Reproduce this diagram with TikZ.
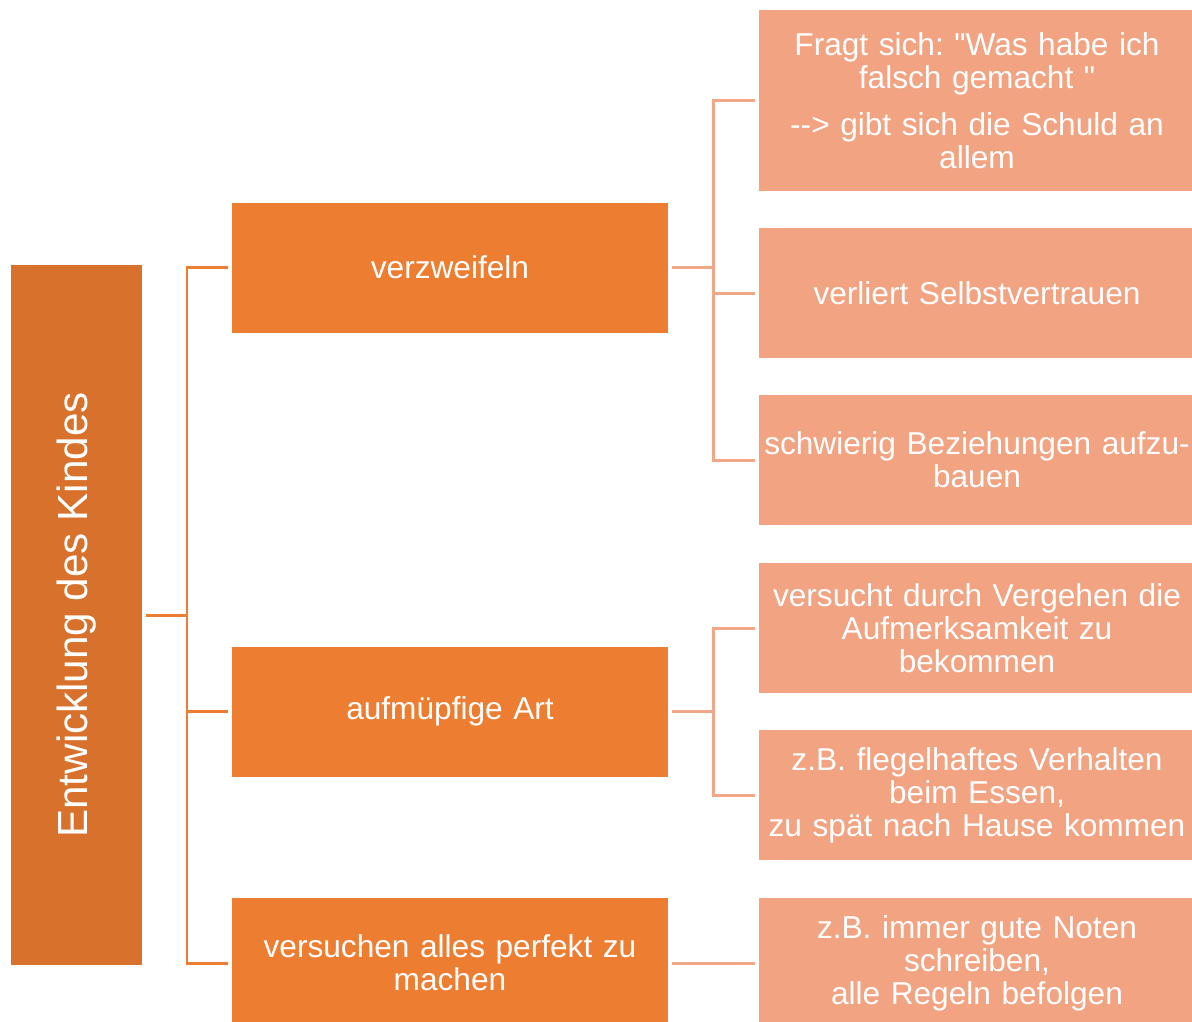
\documentclass[tikz,border=0pt]{standalone}
\usepackage{fontspec}
\setmainfont{Liberation Sans}[Ligatures=TeXOff]
\frenchspacing
\usepackage{xcolor}
\usepackage{tikz}
\usetikzlibrary{positioning}
\definecolor{raiz}{HTML}{D7712B}
\definecolor{nivel}{HTML}{ED7D31}
\definecolor{folha}{HTML}{F1A382}
\definecolor{linhaB}{HTML}{F2A888}

\begin{document}
\begin{tikzpicture}[
	caixa/.style={inner sep=0pt, text=white, align=center, font=\fontsize{9}{9.4}\selectfont},
	raizbox/.style={caixa, fill=raiz, minimum width=1.31cm, minimum height=7cm},
	nivelbox/.style={caixa, fill=nivel, minimum width=4.36cm, minimum height=1.3cm, text width=4.2cm},
	folhabox/.style={caixa, fill=folha, minimum width=4.36cm, minimum height=1.3cm, text width=4.3cm},
	ligA/.style={draw=nivel, line width=0.85pt},
	ligB/.style={draw=linhaB, line width=0.85pt}]
			\useasboundingbox (0,0) rectangle (11.92,-10.21);
			
			%% Raiz
			\node [raizbox] (raiz) at (0.765,-6.15) {};
			\node [caixa, rotate=90, font=\fontsize{12}{14}\selectfont] (titulo) at (raiz.center) {Entwicklung des Kindes};
			
			%% Nível 2
			\node [nivelbox] (verz) at (4.50,-2.675) {verzweifeln};
			\node [nivelbox] (aufm) at (4.50,-7.115) {aufmüpfige Art};
			\node [nivelbox] (perf) at (4.50,-9.63) {versuchen alles perfekt zu\\machen};
			
			%% Nível 3
			\node [folhabox, minimum height=1.81cm] (frag) at (9.77,-1.005) {Fragt sich: "Was habe ich\\falsch gemacht "\\[0.14cm]--> gibt sich die Schuld an\\allem};
			\node [folhabox] (selb) at (9.77,-2.93) {verliert Selbstvertrauen};
			\node [folhabox] (bez) at (9.77,-4.60) {schwierig Beziehungen aufzu-\\bauen};
			\node [folhabox] (verg) at (9.77,-6.28) {versucht durch Vergehen die\\Aufmerksamkeit zu\\bekommen};
			\node [folhabox] (fleg) at (9.77,-7.95) {z.B. flegelhaftes Verhalten\\beim Essen,\\zu spät nach Hause kommen};
			\node [folhabox] (note) at (9.77,-9.63) {z.B. immer gute Noten\\schreiben,\\alle Regeln befolgen};
			
			%% Conexões da raiz
			\coordinate (r1) at (1.87,-6.15);
			\draw [ligA] ([xshift=0.03cm]raiz.east) -- (r1);
			\draw [ligA] (r1) |- ([xshift=-0.03cm]verz.west);
			\draw [ligA] (r1) |- ([xshift=-0.03cm]aufm.west);
			\draw [ligA] (r1) |- ([xshift=-0.03cm]perf.west);
			
			%% Conexões de verzweifeln
			\coordinate (v1) at (7.13,-2.675);
			\draw [ligB] ([xshift=0.03cm]verz.east) -- (v1);
			\draw [ligB] (v1) |- ([xshift=-0.03cm]frag.west);
			\draw [ligB] (v1) |- ([xshift=-0.03cm]selb.west);
			\draw [ligB] (v1) |- ([xshift=-0.03cm]bez.west);
			
			%% Conexões de aufmüpfige Art
			\coordinate (a1) at (7.13,-7.115);
			\draw [ligB] ([xshift=0.03cm]aufm.east) -- (a1);
			\draw [ligB] (a1) |- ([xshift=-0.03cm]verg.west);
			\draw [ligB] (a1) |- ([xshift=-0.03cm]fleg.west);
			
			%% Conexão de versuchen
			\draw [ligB] ([xshift=0.03cm]perf.east) -- ([xshift=-0.03cm]note.west);
		\end{tikzpicture}
\end{document}
